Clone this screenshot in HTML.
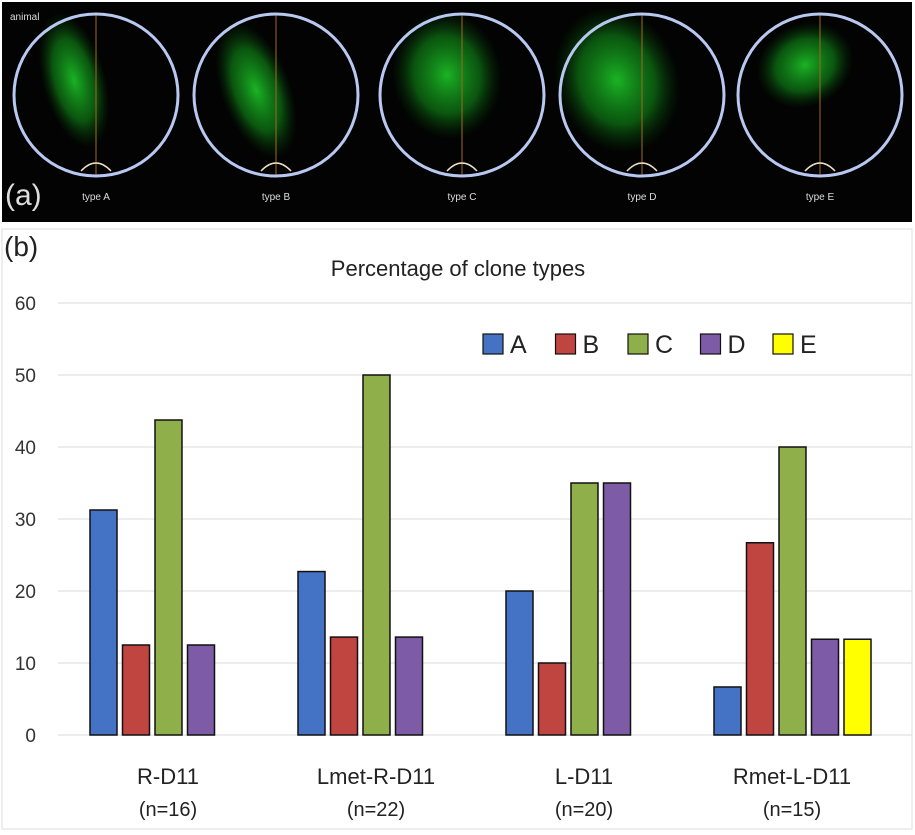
<!DOCTYPE html>
<html><head><meta charset="utf-8"><style>
body{margin:0;width:915px;height:830px;background:#fff;overflow:hidden;font-family:"Liberation Sans",sans-serif}
</style></head><body>
<svg width="915" height="830" xmlns="http://www.w3.org/2000/svg">
<defs>
<radialGradient id="g" cx="50%" cy="50%" r="50%"><stop offset="0" stop-color="#1fd22a" stop-opacity="0.85"/><stop offset="0.6" stop-color="#129a1a" stop-opacity="0.55"/><stop offset="1" stop-color="#0a4a0c" stop-opacity="0"/></radialGradient>
</defs>
<g>
<rect x="2" y="2" width="910" height="220" fill="#020302"/>
<text x="10" y="20" fill="#ddd" font-size="10">animal</text>
<text x="5" y="205" fill="#ddd" font-size="30">(a)</text>
<g id="embryos"></g>
</g>
<rect x="2" y="229" width="910" height="600" fill="none" stroke="#ddd"/>
<text x="4" y="256" font-size="28" fill="#222">(b)</text>
<text x="458" y="276" font-size="22" fill="#222" text-anchor="middle">Percentage of clone types</text>
<g id="grid"></g><g id="bars"></g><g id="legend"></g><g id="labels"></g>
</svg>
<script>
const categories=["R-D11","Lmet-R-D11","L-D11","Rmet-L-D11"];
const counts=["(n=16)","(n=22)","(n=20)","(n=15)"];
const seriesNames=["A","B","C","D","E"];
const seriesA=[31.25,22.7,20,6.67];
const seriesB=[12.5,13.6,10,26.7];
const seriesC=[43.75,50,35,40];
const seriesD=[12.5,13.6,35,13.3];
const seriesE=[0,0,0,13.3];
const yTicks=[0,10,20,30,40,50,60];
const embryoTypes=["type A","type B","type C","type D","type E"];
const colors=["#4472c4","#c0443f","#8faf4a","#7d5ba6","#ffff00"];
const NS="http://www.w3.org/2000/svg";
function mk(t,a,p){const e=document.createElementNS(NS,t);for(const k in a)e.setAttribute(k,a[k]);p.appendChild(e);return e;}
const y0=735,yTop=303,yMax=60;
const y=v=>y0-(v/yMax)*(y0-yTop);
const bandStart=66,band=208,slot=32.5,bw=27;
const x=(ci,si)=>bandStart+ci*band+24+si*slot;
const eg=document.getElementById('embryos');
const ecx=[96,276,462,642,820];
const blobs=[[-22,-15,32,70,-15],[-20,-5,35,72,-20],[-15,-20,55,65,-10],[-25,-15,62,75,-20],[-15,-30,50,42,-25]];
embryoTypes.forEach((t,i)=>{
 const g=mk('g',{},eg);
 
 
 const b=blobs[i];
 mk('ellipse',{cx:ecx[i]+b[0],cy:95+b[1],rx:b[2],ry:b[3],fill:'url(#g)',transform:`rotate(${b[4]} ${ecx[i]+b[0]} ${95+b[1]})`},g);
 mk('line',{x1:ecx[i],y1:14,x2:ecx[i],y2:176,stroke:'#a06a20','stroke-width':1},g);
 mk('ellipse',{cx:ecx[i],cy:95,rx:82,ry:81,fill:'none',stroke:'#b8c8f0','stroke-width':3},g);
 mk('path',{d:`M${ecx[i]-15} 171 Q${ecx[i]} 155 ${ecx[i]+15} 171`,fill:'none',stroke:'#f0e0c0','stroke-width':1.5},g);
 const tx=mk('text',{x:ecx[i],y:200,fill:'#ddd','font-size':10,'text-anchor':'middle'},g);tx.textContent=t;
 
 
});
const gg=document.getElementById('grid');
yTicks.forEach(v=>{
 const l=mk('line',{x1:58,x2:912,y1:y(v),y2:y(v),stroke:'#e2e2e2','stroke-width':1.2},gg);
 
 
 const t=mk('text',{x:36,y:y(v)+7,'font-size':19,fill:'#333','text-anchor':'end'},gg);t.textContent=v;
 
 
});
const bg=document.getElementById('bars');
const series=[seriesA,seriesB,seriesC,seriesD,seriesE];
series.forEach((s,si)=>s.forEach((v,ci)=>{
 if(v<=0)return;
 const r=mk('rect',{x:x(ci,si),y:y(v),width:bw,height:y0-y(v),fill:colors[si],stroke:'#111','stroke-width':1.5},bg);
 
 
}));
const lg=document.getElementById('legend');
seriesNames.forEach((n,i)=>{
 const lx=483+i*72.5;
 const g=mk('g',{},lg);
 
 
 mk('rect',{x:lx,y:334,width:20,height:20,fill:colors[i],stroke:'#111','stroke-width':1.2},g);
 const t=mk('text',{x:lx+27,y:353,'font-size':25,fill:'#222'},g);t.textContent=n;
});
const cg=document.getElementById('labels');
categories.forEach((c,ci)=>{
 const cx=bandStart+ci*band+band/2-2;
 const t=mk('text',{x:cx,y:784,'font-size':22,fill:'#222','text-anchor':'middle'},cg);t.textContent=c;
 
 
 const t2=mk('text',{x:cx,y:816,'font-size':20,fill:'#222','text-anchor':'middle'},cg);t2.textContent=counts[ci];
 
 
});
</script>
</body></html>
